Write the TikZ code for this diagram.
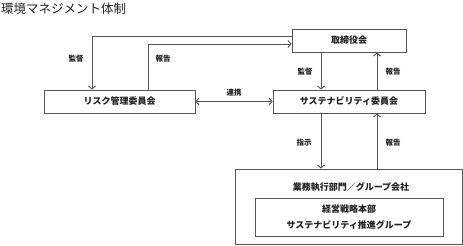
\documentclass[tikz,border=0pt]{standalone}
\usepackage{fontspec}
\setmainfont{Noto Sans CJK JP}
\usetikzlibrary{arrows.meta}
\definecolor{linec}{HTML}{555555}
\definecolor{textc}{HTML}{222222}
\begin{document}
\begin{tikzpicture}[x=1pt,y=-1pt,
  box/.style={draw=linec,line width=0.9pt,minimum height=23pt,inner sep=0pt,text=textc,font=\fontsize{9}{11}\selectfont\bfseries},
  lbl/.style={text=textc,font=\fontsize{7.5}{9}\selectfont\bfseries,inner sep=0pt},
  arr/.style={draw=linec,line width=0.9pt,-{Straight Barb[length=3pt,width=7pt]}},
  dbl/.style={draw=linec,line width=0.9pt,{Straight Barb[length=3pt,width=7pt]}-{Straight Barb[length=3pt,width=7pt]}}]
\useasboundingbox (0,0) rectangle (463,246);
\node[anchor=west,inner sep=0pt,text=textc,font=\fontsize{12.5}{14}\selectfont] (title) at (1,9) {環境マネジメント体制};
\node[box,minimum width=114pt] (tori) at (349,40.5) {取締役会};
\node[box,minimum width=151pt] (risk) at (119.5,101.5) {リスク管理委員会};
\node[box,minimum width=152pt] (sust) at (349,101.5) {サステナビリティ委員会};
\node[draw=linec,line width=0.9pt,minimum width=227pt,minimum height=75pt,inner sep=0pt] (outer) at (348.5,206.5) {};
\node[lbl,font=\fontsize{9}{11}\selectfont\bfseries] (gyomu) at (351,187) {業務執行部門／グループ会社};
\node[draw=linec,line width=0.9pt,minimum width=188pt,minimum height=38pt,inner sep=0pt,text=textc,font=\fontsize{9}{16}\selectfont\bfseries,align=center] (inner) at (349,217) {経営戦略本部\\サステナビリティ推進グループ};
% left loop arrows
\coordinate (k1) at ([yshift=4.5pt]tori.west);
\coordinate (k2) at ([xshift=-27.5pt]risk.north);
\draw[arr] (k1) -| (k2);
\coordinate (h1) at ([xshift=28.5pt]risk.north);
\coordinate (h2) at ([yshift=-3.5pt]tori.west);
\draw[arr] (h1) |- (h2);
\node[lbl] (lk1) at (76,59) {監督};
\node[lbl] (lh1) at (163,59) {報告};
% renkei
\draw[dbl] (risk.east) -- (sust.west);
\node[lbl] (lr) at (234,93) {連携};
% tori <-> sust
\draw[arr] ([xshift=-28pt]tori.south) -- ([xshift=-28pt]sust.north);
\draw[arr] ([xshift=28pt]sust.north) -- ([xshift=28pt]tori.south);
\node[lbl] (lk2) at (305,72) {監督};
\node[lbl] (lh2) at (393,72) {報告};
% sust <-> outer
\coordinate (s1) at ([xshift=-28pt]sust.south);
\coordinate (s2) at ([xshift=28pt]sust.south);
\draw[arr] (s1) -- (s1 |- outer.north);
\draw[arr] (s2 |- outer.north) -- (s2);
\node[lbl] (ls) at (304,142.5) {指示};
\node[lbl] (lh3) at (393,142.5) {報告};
\end{tikzpicture}
\end{document}
